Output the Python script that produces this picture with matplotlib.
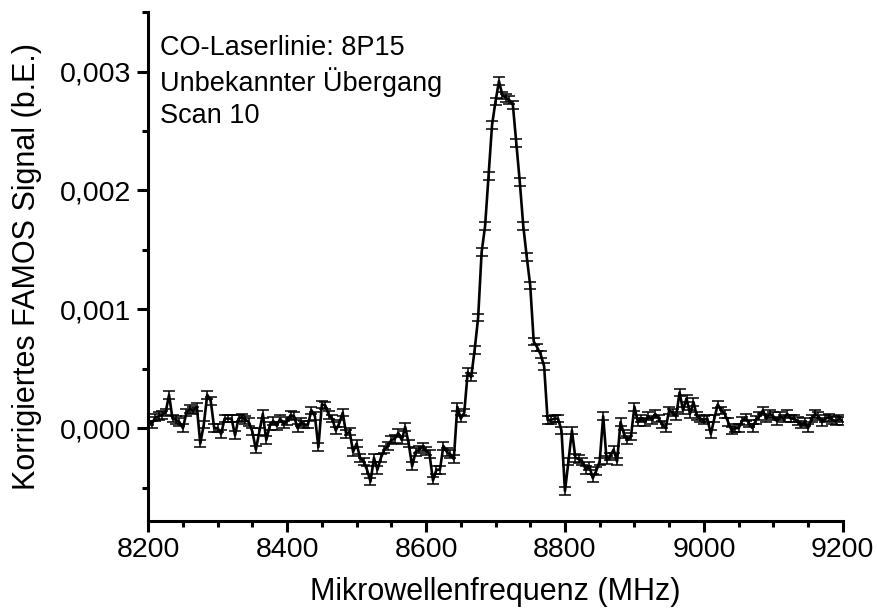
import matplotlib
matplotlib.use("Agg")
import matplotlib.pyplot as plt
from matplotlib.ticker import MultipleLocator, FuncFormatter
import numpy as np

plt.rcParams['font.family'] = ['Liberation Sans', 'DejaVu Sans']

# frequency grid (MHz), 5 MHz steps
freq = np.arange(8200, 9201, 5)

# corrected FAMOS signal in units of 1e-4, one row per 100 MHz
signal_e4 = [
    0.6, 0.3, 0.9, 1.0, 1.1, 1.3, 2.8, 0.8, 0.7, 0.5, 0.0, 1.3, 1.6, 1.5, 1.8, -1.3, 0.3, 2.8, 2.3, 0.0,
    0.0, -0.5, 0.8, 0.8, 0.8, -0.6, 0.8, 0.9, 0.7, 0.5, -0.3, -1.8, -0.3, 1.2, -1.0, 0.2, 0.6, 0.2, 0.8, 0.3,
    0.6, 1.1, 1.0, 0.0, 0.5, 0.3, 0.3, 1.5, 1.0, -1.6, 2.0, 1.9, 1.1, 0.8, -0.2, 0.4, 1.3, -0.5, -0.3, -2.0,
    -1.3, -2.5, -2.8, -3.5, -4.5, -2.5, -3.5, -2.5, -1.8, -1.5, -1.0, -0.9, -0.4, -1.0, 0.1, -1.3, -3.2, -2.0, -1.8, -1.6,
    -1.9, -2.2, -4.4, -3.5, -3.5, -1.5, -2.0, -2.2, -2.6, 1.8, 0.8, 1.3, 4.7, 4.3, 6.6, 9.3, 14.8, 17.0, 21.2, 25.5,
    27.5, 29.2, 28.0, 27.8, 27.6, 27.2, 24.0, 20.7, 17.0, 14.4, 12.0, 7.3, 6.8, 6.2, 5.2, 0.7, 0.7, 0.8, 0.8, -0.2,
    -5.3, -2.8, -0.2, -2.5, -2.6, -2.8, -3.5, -3.2, -4.2, -3.6, -2.8, 1.0, -2.7, -2.4, -1.8, -2.8, 0.5, -0.5, -1.0, -0.7,
    1.8, 0.5, 0.8, 0.5, 1.0, 0.7, 1.2, 0.8, 0.3, 0.0, 1.5, 1.3, 1.0, 3.0, 1.5, 2.5, 1.2, 2.2, 1.0, 0.8,
    0.7, 0.8, -0.5, 0.8, 2.0, 1.5, 1.2, 0.5, -0.2, 0.0, 0.0, 0.6, 0.9, 0.4, 0.0, 0.7, 1.0, 1.5, 0.8, 1.2,
    1.0, 0.6, 1.0, 0.8, 1.2, 0.8, 0.8, 0.6, 0.3, 0.5, 0.0, 0.8, 1.2, 1.0, 0.5, 0.8, 0.9, 0.7, 0.6, 0.8,
    0.6,
]
signal = np.array(signal_e4) * 1e-4
err = 3.2e-5  # error bars look about the same size everywhere

info = ["CO-Laserlinie: 8P15", "Unbekannter Übergang", "Scan 10"]

fig = plt.figure(figsize=(8.77, 6.12), dpi=100)
ax = fig.add_axes([0.169, 0.149, 0.792, 0.831])

ax.errorbar(freq, signal, yerr=err, color='black', lw=1.9, elinewidth=1.1,
            capsize=4, capthick=1.1)

ax.set_xlim(8200, 9200)
ax.set_ylim(-0.00078, 0.0035)
ax.xaxis.set_major_locator(MultipleLocator(200))
ax.xaxis.set_minor_locator(MultipleLocator(50))
ax.yaxis.set_major_locator(MultipleLocator(0.001))
ax.yaxis.set_minor_locator(MultipleLocator(0.0005))
ax.yaxis.set_major_formatter(FuncFormatter(lambda v, p: f"{v:.3f}".replace('.', ',').replace('-0,000', '0,000')))

for s in ['top', 'right']:
    ax.spines[s].set_visible(False)
for s in ['left', 'bottom']:
    ax.spines[s].set_linewidth(2.2)

ax.tick_params(which='major', direction='out', length=8, width=2.2, labelsize=20.5, pad=4)
ax.tick_params(which='minor', direction='out', length=4.5, width=2.2)

ax.set_xlabel("Mikrowellenfrequenz (MHz)", fontsize=22, va='center')
ax.xaxis.set_label_coords(0.5, -0.139)
ax.set_ylabel("Korrigiertes FAMOS Signal (b.E.)", fontsize=22, va='center')
ax.yaxis.set_label_coords(-0.174, 0.5)

for i, line in enumerate(info):
    ax.text(0.017, 0.929 - i * 0.0665, line, transform=ax.transAxes, fontsize=19.5,
            va='center', ha='left')

fig.savefig("out.png", dpi=100)
plt.close(fig)
